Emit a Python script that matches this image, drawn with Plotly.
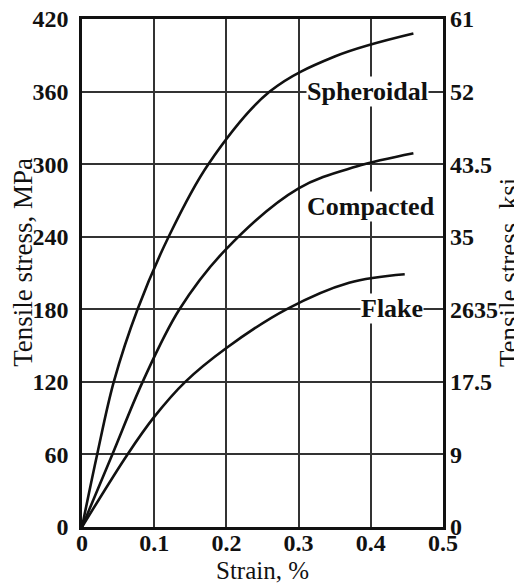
import plotly.graph_objects as go

# ---- data (strain %, tensile stress MPa) ----
spheroidal_strain = [0, 0.021, 0.044, 0.077, 0.12, 0.175, 0.26, 0.35, 0.459]
spheroidal_stress = [0, 60, 120, 180, 240, 300, 360, 389, 408]

compacted_strain = [0, 0.042, 0.084, 0.135, 0.2, 0.3, 0.38, 0.459]
compacted_stress = [0, 60, 120, 180, 230, 280, 298, 309]

flake_strain = [0, 0.063, 0.1, 0.143, 0.2, 0.283, 0.37, 0.447]
flake_stress = [0, 60, 91, 120, 148, 180, 202, 209]

x_ticks = [0, 0.1, 0.2, 0.3, 0.4, 0.5]
x_ticktext = ["0", "0.1", "0.2", "0.3", "0.4", "0.5"]
y_ticks = [0, 60, 120, 180, 240, 300, 360, 420]
y_ticktext = ["0", "60", "120", "180", "240", "300", "360", "420"]
ksi_ticktext = ["0", "9", "17.5", "2635", "35", "43.5", "52", "61"]

labels = ["Spheroidal", "Compacted", "Flake"]
label_x = [0.395, 0.40, 0.43]
label_y = [360, 265, 181]

SERIF = "Liberation Serif, Times New Roman, serif"
INK = "#111111"

fig = go.Figure()
for xs, ys, name in [(spheroidal_strain, spheroidal_stress, "Spheroidal"),
                     (compacted_strain, compacted_stress, "Compacted"),
                     (flake_strain, flake_stress, "Flake")]:
    fig.add_trace(go.Scatter(x=xs, y=ys, mode="lines", name=name,
                             line=dict(color=INK, width=2.6, shape="spline", smoothing=1.0),
                             showlegend=False, hoverinfo="skip"))

# invisible trace to activate right axis
fig.add_trace(go.Scatter(x=[0], y=[0], yaxis="y2", mode="markers",
                         marker=dict(opacity=0), showlegend=False, hoverinfo="skip"))

for t, xv, yv in zip(labels, label_x, label_y):
    fig.add_annotation(x=xv, y=yv, text="<b>%s</b>" % t, showarrow=False,
                       font=dict(family=SERIF, size=26, color=INK),
                       bgcolor="white", borderpad=0, xanchor="center", yanchor="middle")

tickfont = dict(family=SERIF, size=24, color=INK, weight="bold")

fig.update_layout(
    width=514, height=583,
    margin=dict(l=82, r=71, t=19, b=56, autoexpand=False),
    paper_bgcolor="white", plot_bgcolor="white",
    xaxis=dict(range=[0, 0.5], tickvals=x_ticks, ticktext=x_ticktext,
               showgrid=True, gridcolor="#333333", gridwidth=2,
               showline=True, linecolor=INK, linewidth=2.5, mirror=True,
               zeroline=False, ticks="", tickfont=tickfont, ticklabelstandoff=-8,
               automargin=False),
    yaxis=dict(range=[0, 420], tickvals=y_ticks, ticktext=y_ticktext,
               showgrid=True, gridcolor="#333333", gridwidth=2,
               showline=True, linecolor=INK, linewidth=2.5, mirror=True,
               zeroline=False, ticks="", tickfont=tickfont, ticklabelstandoff=6,
               automargin=False),
    yaxis2=dict(range=[0, 420], overlaying="y", side="right",
                tickvals=y_ticks, ticktext=ksi_ticktext, showgrid=False,
                zeroline=False, ticks="", tickfont=tickfont, ticklabelstandoff=6,
                showline=False, automargin=False),
)

fig.add_annotation(xref="paper", yref="paper", x=0.5, y=-0.056, yanchor="top",
                   text="Strain, %", showarrow=False,
                   font=dict(family=SERIF, size=25, color=INK))
fig.add_annotation(xref="paper", yref="paper", x=(23 - 82) / 361, y=0.52,
                   text="Tensile stress, MPa", textangle=-90, showarrow=False,
                   font=dict(family=SERIF, size=27, color=INK),
                   xanchor="center", yanchor="middle")
fig.add_annotation(xref="paper", yref="paper", x=(509 - 82) / 361, y=0.5,
                   text="Tensile stress, ksi", textangle=-90, showarrow=False,
                   font=dict(family=SERIF, size=27, color=INK),
                   xanchor="center", yanchor="middle")

fig.write_html("out.html", config={"displayModeBar": False},
               post_script="document.body.style.margin='0px';")
